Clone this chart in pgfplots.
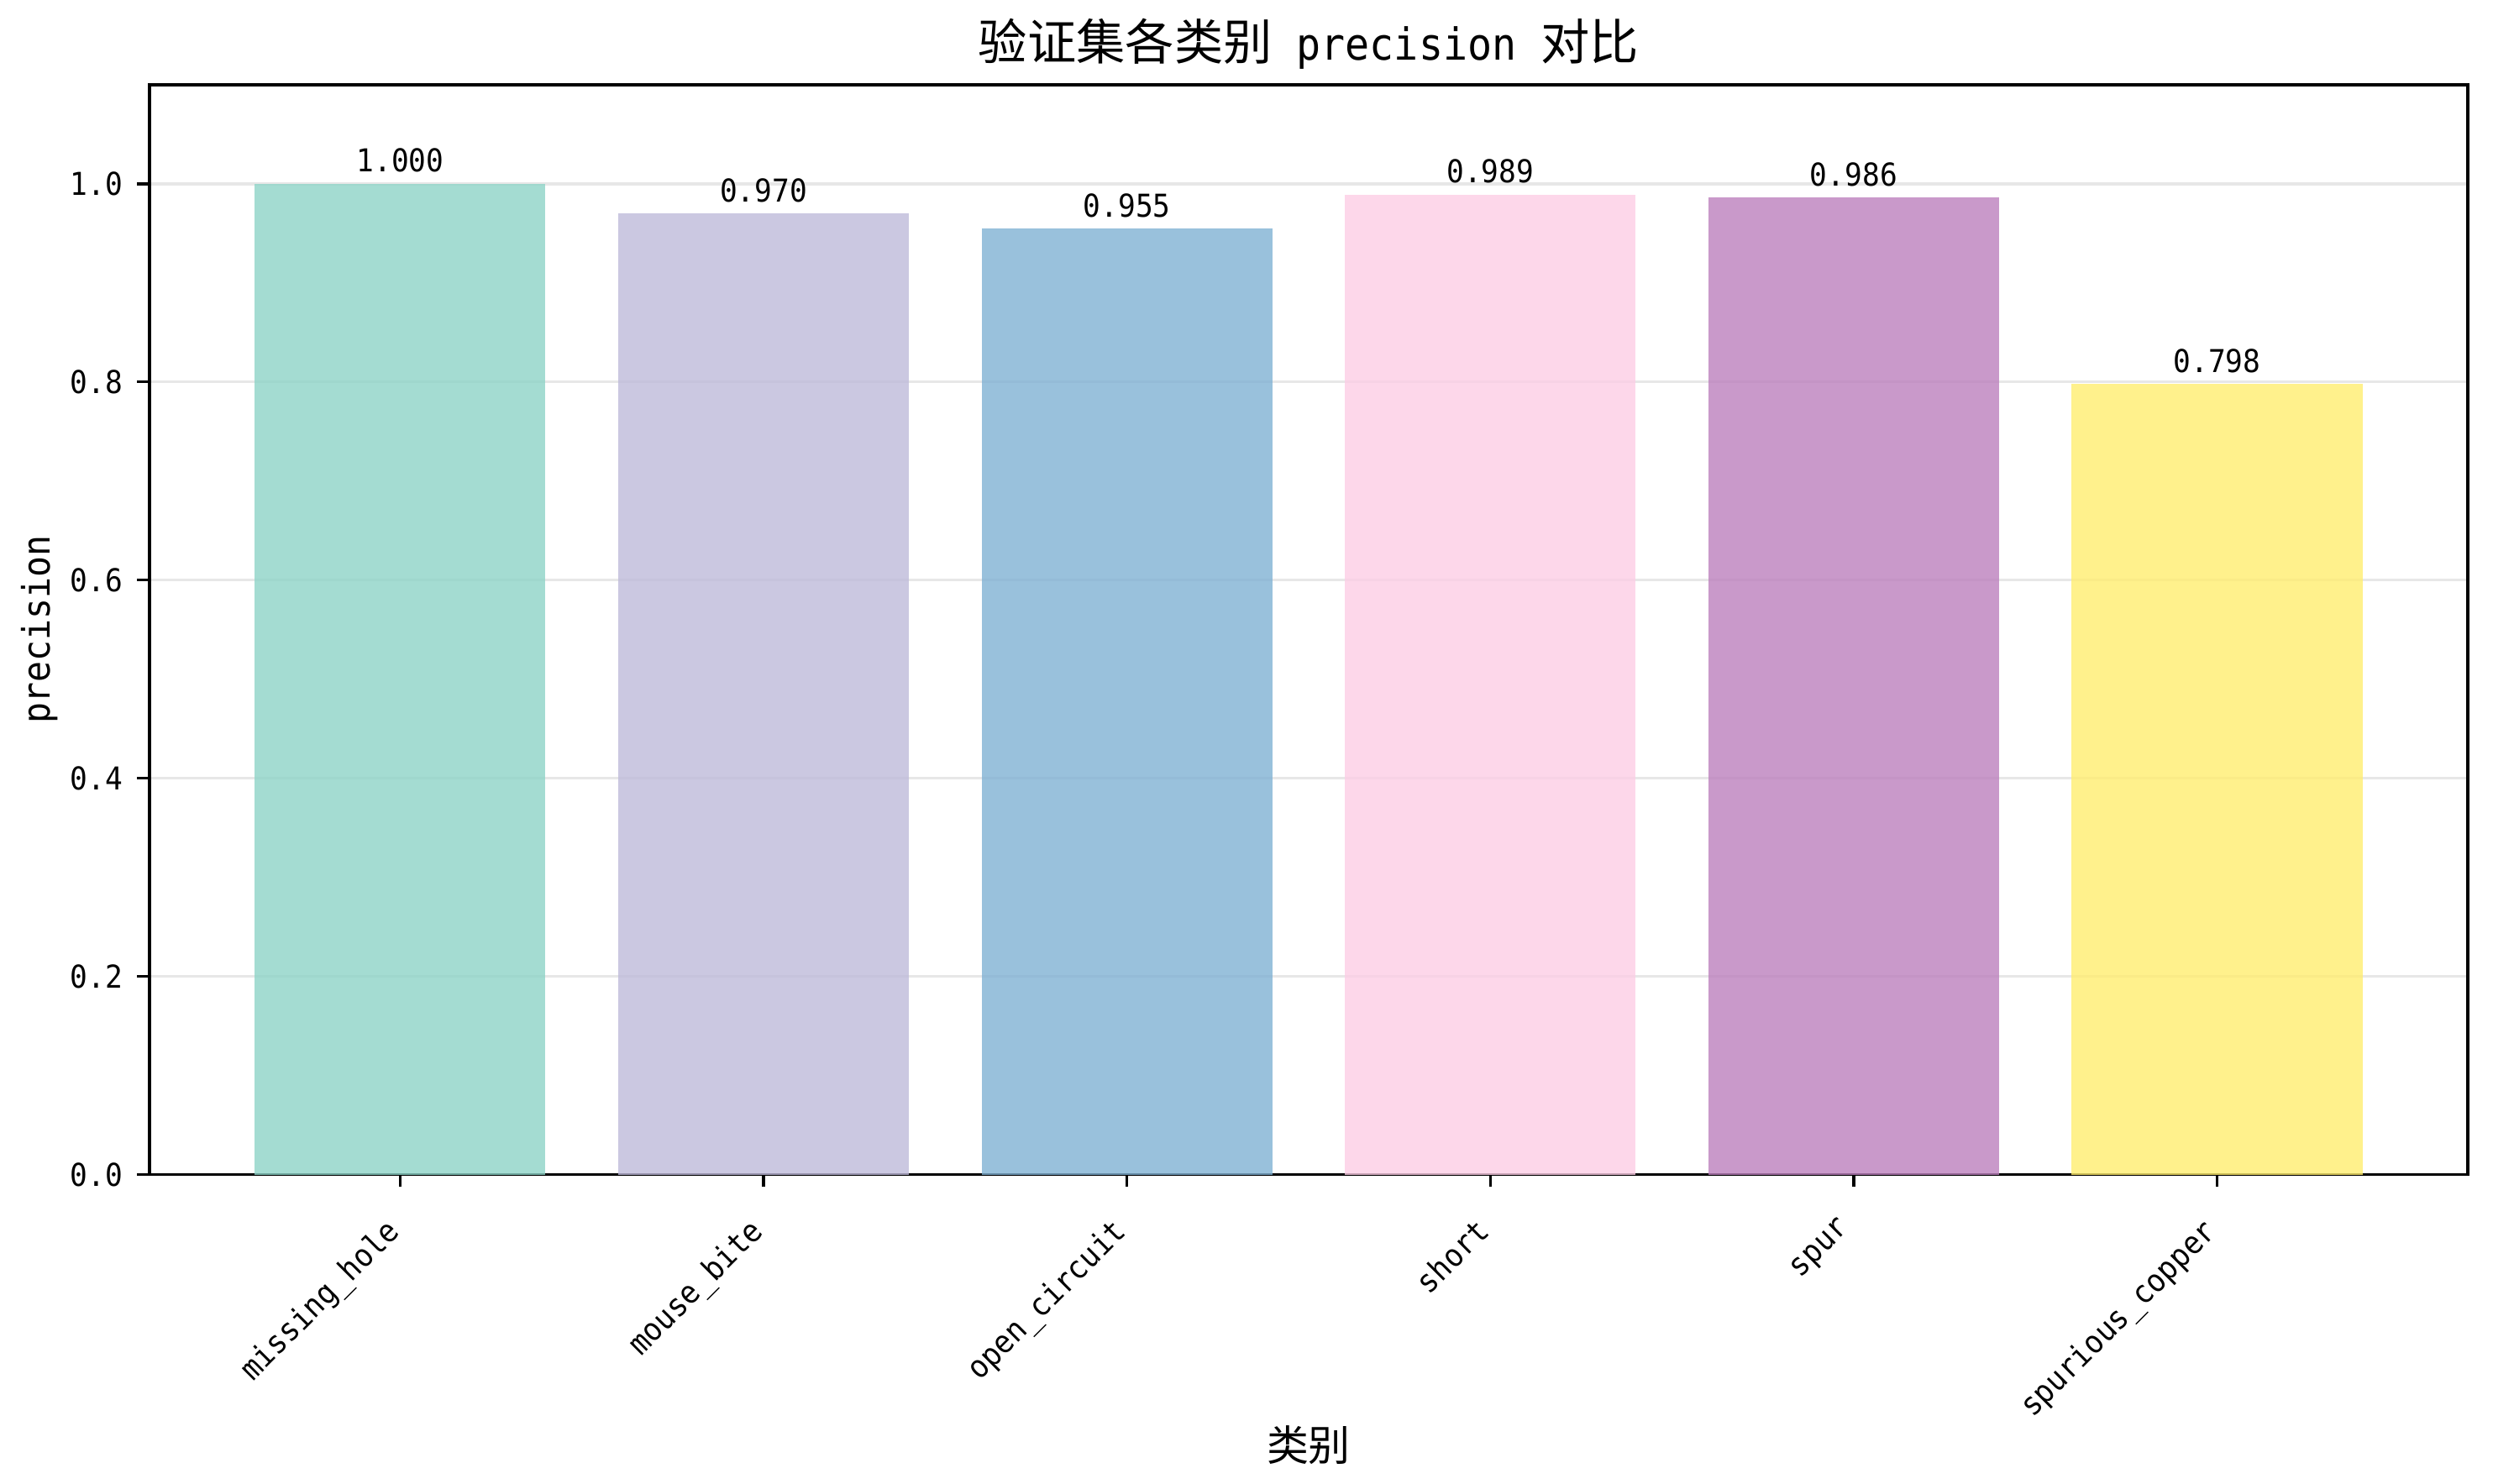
\documentclass[border=0pt]{standalone}
\usepackage{fontspec}
\setmainfont{DejaVu Sans Mono}[FakeStretch=0.92]
\newfontfamily\cjk{Noto Sans CJK SC}[Scale=1.11]
\usepackage{pgfplots}
\pgfplotsset{compat=1.18}

% Set3 colours, drawn at alpha 0.8
\definecolor{c0}{HTML}{8DD3C7}
\definecolor{c1}{HTML}{BEBADA}
\definecolor{c2}{HTML}{80B1D3}
\definecolor{c3}{HTML}{FCCDE5}
\definecolor{c4}{HTML}{BC80BD}
\definecolor{c5}{HTML}{FFED6F}
\definecolor{gridc}{HTML}{E7E7E7}

\pgfplotsset{
  mybar/.style={fill=#1, draw=none, fill opacity=0.8, bar shift=0pt,
    point meta=explicit symbolic, nodes near coords},
}

\begin{document}
\begin{tikzpicture}
\begin{axis}[
  scale only axis,
  width=662.4pt, height=311.5pt,
  ybar, bar width=0.8,
  xmin=-0.69, xmax=5.69,
  ymin=0, ymax=1.1,
  xtick={0,1,2,3,4,5},
  xticklabels={missing\_hole,mouse\_bite,open\_circuit,short,spur,spurious\_copper},
  ytick={0,0.2,0.4,0.6,0.8,1},
  yticklabels={0.0,0.2,0.4,0.6,0.8,1.0},
  xtick pos=lower, ytick pos=left,
  tick align=outside,
  major tick length=3.5pt,
  tick style={black, line width=0.8pt},
  axis line style={line width=0.8pt},
  ymajorgrids,
  grid style={gridc, line width=0.8pt},
  ticklabel style={font=\fontsize{9}{11}\selectfont},
  xticklabel style={rotate=45, anchor=north east, inner sep=0pt, xshift=-9pt, yshift=-2.5pt},
  yticklabel style={inner sep=0pt, xshift=-4pt},
  every node near coord/.append style={font=\fontsize{9}{11}\selectfont, anchor=south,
    inner sep=0pt, yshift=3pt, text opacity=1},
  title={{\cjk 验证集各类别} precision {\cjk 对比}},
  every axis title/.style={at={(0.5,1)}, anchor=south, yshift=1pt,
    font=\fontsize{12.6}{15}\selectfont},
  xlabel={\cjk 类别},
  ylabel={precision},
  label style={font=\fontsize{10.8}{13}\selectfont},
  xlabel style={yshift=3pt},
]
\addplot[mybar=c0] coordinates {(0,1.000) [1.000]};
\addplot[mybar=c1] coordinates {(1,0.970) [0.970]};
\addplot[mybar=c2] coordinates {(2,0.955) [0.955]};
\addplot[mybar=c3] coordinates {(3,0.989) [0.989]};
\addplot[mybar=c4] coordinates {(4,0.986) [0.986]};
\addplot[mybar=c5] coordinates {(5,0.798) [0.798]};
\end{axis}
\pgfresetboundingbox
\path[use as bounding box]
  ([shift={(-42.7pt,-88.3pt)}]current axis.south west)
  rectangle ([shift={(7.2pt,24.2pt)}]current axis.north east);
\end{tikzpicture}
\end{document}
